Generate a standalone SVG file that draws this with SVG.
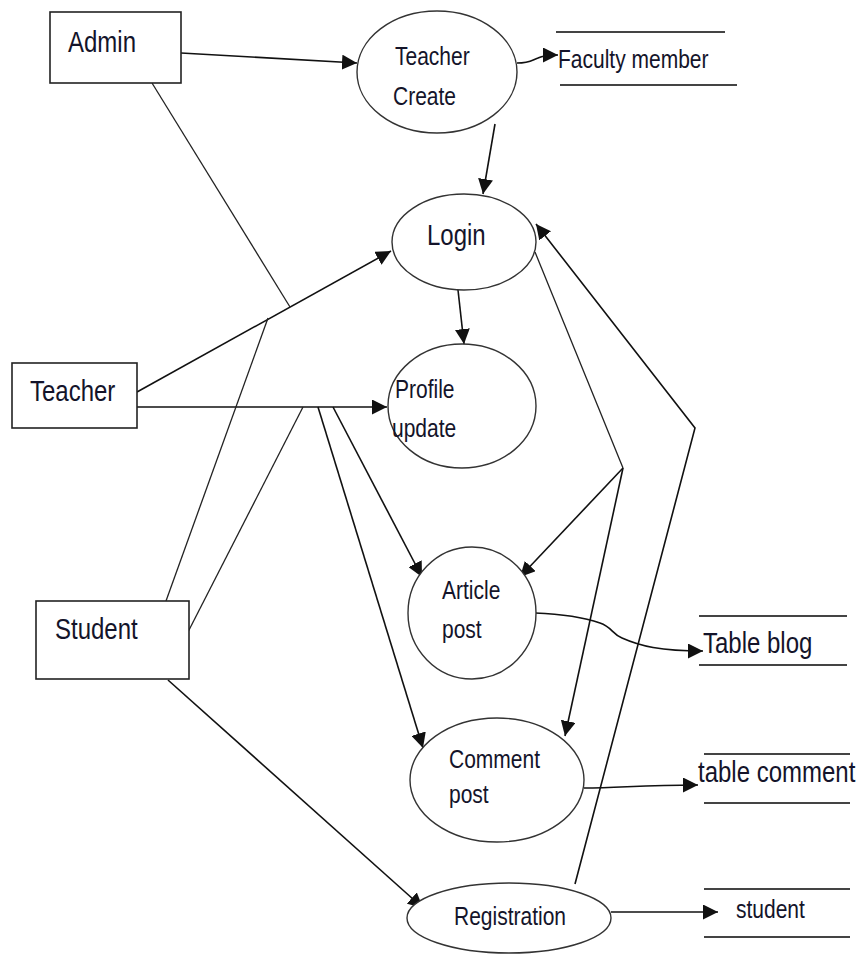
<svg xmlns="http://www.w3.org/2000/svg" width="858" height="955" viewBox="0 0 858 955">
  <style>
    .box { fill: #fff; stroke: #222; stroke-width: 1.6; }
    .proc { fill: #fff; stroke: #333; stroke-width: 1.4; }
    .store { stroke: #444; stroke-width: 2; }
    .flow { fill: none; stroke: #111; stroke-width: 1.6; }
    .line { fill: none; stroke: #222; stroke-width: 1.3; }
    text { font-family: "Liberation Sans", Arial, sans-serif; fill: #14142a; }
    .ent { font-size: 24px; }
    .lbl { font-size: 21px; }
  </style>
  <defs>
    <marker id="arrow" viewBox="0 0 10 10" refX="10" refY="5" markerWidth="15" markerHeight="15" markerUnits="userSpaceOnUse" orient="auto">
      <path d="M0,0 L10,5 L0,10 z" fill="#111"/>
    </marker>
  </defs>

  <rect width="858" height="955" fill="#fff"/>

  <!-- connectors -->
  <g id="connectors">
    <!-- Admin to Teacher Create -->
    <line class="flow" x1="181" y1="53" x2="357" y2="63" marker-end="url(#arrow)"/>
    <!-- Teacher Create to Faculty member -->
    <path class="flow" d="M517,63 C530,63 532,60 538,58 C544,55 550,55 558,55" marker-end="url(#arrow)"/>
    <!-- Teacher Create to Login -->
    <line class="flow" x1="495" y1="124" x2="483" y2="194" marker-end="url(#arrow)"/>
    <!-- Login to Profile update -->
    <line class="flow" x1="458" y1="290" x2="464" y2="344" marker-end="url(#arrow)"/>
    <!-- Teacher to Login -->
    <line class="flow" x1="137" y1="392" x2="391" y2="251" marker-end="url(#arrow)"/>
    <!-- Teacher to Profile update -->
    <line class="flow" x1="137" y1="407" x2="387" y2="407" marker-end="url(#arrow)"/>
    <!-- Admin link -->
    <line class="line" x1="152" y1="83" x2="290" y2="307"/>
    <!-- Student links -->
    <line class="line" x1="166" y1="601" x2="268" y2="318"/>
    <line class="line" x1="188" y1="632" x2="303" y2="407"/>
    <!-- branches to Article post and Comment post -->
    <line class="flow" x1="333" y1="407" x2="422" y2="577" marker-end="url(#arrow)"/>
    <line class="flow" x1="318" y1="407" x2="423" y2="748" marker-end="url(#arrow)"/>
    <!-- Login to Article post and Comment post -->
    <line class="line" x1="535" y1="252" x2="623" y2="468"/>
    <line class="flow" x1="623" y1="468" x2="520" y2="577" marker-end="url(#arrow)"/>
    <line class="flow" x1="623" y1="468" x2="565" y2="736" marker-end="url(#arrow)"/>
    <!-- Registration back to Login -->
    <polyline class="flow" points="575,884 695,428 536,224" marker-end="url(#arrow)"/>
    <!-- Article post to Table blog -->
    <path class="flow" d="M535,613 C560,614 580,616 600,623 C612,627 612,634 622,638 C640,646 660,651 703,651" marker-end="url(#arrow)"/>
    <!-- Comment post to table comment -->
    <path class="flow" d="M584,788 C620,788 640,785 698,785" marker-end="url(#arrow)"/>
    <!-- Student to Registration -->
    <line class="flow" x1="168" y1="680" x2="423" y2="908" marker-end="url(#arrow)"/>
    <!-- Registration to student -->
    <line class="flow" x1="611" y1="912" x2="718" y2="912" marker-end="url(#arrow)"/>
  </g>

  <!-- external entities (labels drawn slightly tall) -->
  <g id="admin">
    <rect class="box" x="50" y="12" width="131" height="71"/>
    <text class="ent" transform="translate(68,52) scale(1,1.25)">Admin</text>
  </g>
  <g id="teacher">
    <rect class="box" x="12" y="363" width="125" height="65"/>
    <text class="ent" transform="translate(30,401) scale(1,1.25)">Teacher</text>
  </g>
  <g id="student">
    <rect class="box" x="36" y="601" width="153" height="78"/>
    <text class="ent" transform="translate(55,639) scale(1,1.25)">Student</text>
  </g>

  <!-- processes -->
  <g id="teacher-create">
    <ellipse class="proc" cx="437" cy="72" rx="80" ry="61"/>
    <text class="lbl" transform="translate(395,65) scale(1,1.25)">Teacher</text>
    <text class="lbl" transform="translate(393,105) scale(1,1.25)">Create</text>
  </g>
  <g id="login">
    <ellipse class="proc" cx="464" cy="242" rx="72" ry="48"/>
    <text class="ent" transform="translate(427,245) scale(1,1.25)">Login</text>
  </g>
  <g id="profile-update">
    <ellipse class="proc" cx="462" cy="406" rx="74" ry="62"/>
    <text class="lbl" transform="translate(395,398) scale(1,1.25)">Profile</text>
    <text class="lbl" transform="translate(392,437) scale(1,1.25)">update</text>
  </g>
  <g id="article-post">
    <ellipse class="proc" cx="472" cy="613" rx="64" ry="66"/>
    <text class="lbl" transform="translate(442,599) scale(1,1.25)">Article</text>
    <text class="lbl" transform="translate(442,638) scale(1,1.25)">post</text>
  </g>
  <g id="comment-post">
    <ellipse class="proc" cx="497" cy="780" rx="87" ry="62"/>
    <text class="lbl" transform="translate(449,768) scale(1,1.25)">Comment</text>
    <text class="lbl" transform="translate(449,803) scale(1,1.25)">post</text>
  </g>
  <g id="registration">
    <ellipse class="proc" cx="509" cy="918" rx="102" ry="35"/>
    <text class="lbl" transform="translate(454,925) scale(1,1.25)">Registration</text>
  </g>

  <!-- data stores -->
  <g id="faculty-member">
    <line class="store" x1="556" y1="32" x2="725" y2="32"/>
    <line class="store" x1="560" y1="85" x2="737" y2="85"/>
    <text class="lbl" transform="translate(558,68) scale(1,1.25)">Faculty member</text>
  </g>
  <g id="table-blog">
    <line class="store" x1="699" y1="616" x2="847" y2="616"/>
    <line class="store" x1="699" y1="665" x2="847" y2="665"/>
    <text class="ent" transform="translate(703,653) scale(1,1.25)">Table blog</text>
  </g>
  <g id="table-comment">
    <line class="store" x1="704" y1="754" x2="850" y2="754"/>
    <line class="store" x1="704" y1="803" x2="850" y2="803"/>
    <text class="ent" transform="translate(698,782) scale(1,1.25)">table comment</text>
  </g>
  <g id="student-store">
    <line class="store" x1="704" y1="889" x2="850" y2="889"/>
    <line class="store" x1="704" y1="937" x2="850" y2="937"/>
    <text class="lbl" transform="translate(736,918) scale(1,1.25)">student</text>
  </g>
</svg>
